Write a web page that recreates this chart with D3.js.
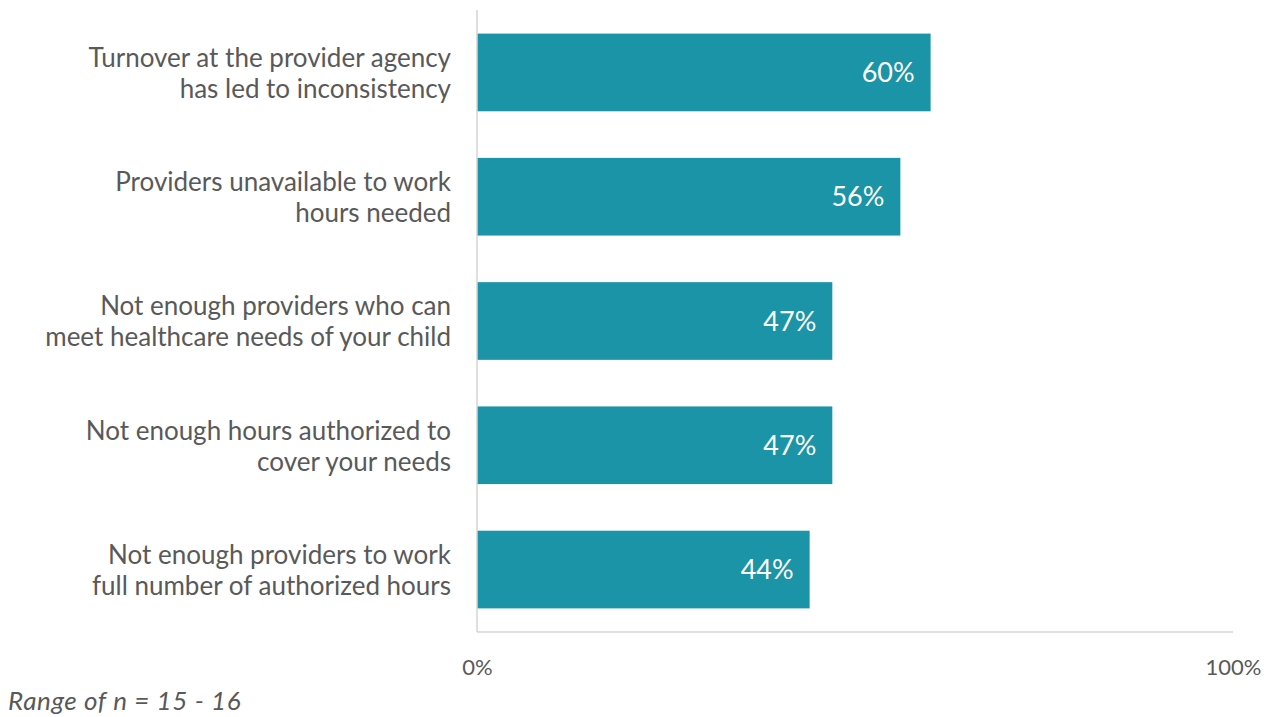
<!DOCTYPE html>
<html>
<head>
<meta charset="utf-8">
<script src="https://cdn.jsdelivr.net/npm/d3@7"></script>
<style>
  html, body { margin: 0; padding: 0; background: #fff; }
  svg { display: block; font-family: "Lato", "Open Sans", sans-serif; }
</style>
</head>
<body>
<svg id="chart" width="1278" height="717"></svg>
<script>
// Barriers reported, share of respondents
const categories = [
  ["Turnover at the provider agency", "has led to inconsistency"],
  ["Providers unavailable to work", "hours needed"],
  ["Not enough providers who can", "meet healthcare needs of your child"],
  ["Not enough hours authorized to", "cover your needs"],
  ["Not enough providers to work", "full number of authorized hours"]
];
const values = [60, 56, 47, 47, 44];
const tickValues = [0, 100];
const footnote = "Range of n = 15 - 16";

const svg = d3.select("#chart");
const plotLeft = 477, plotRight = 1233, plotTop = 10, plotBottom = 632;

const x = d3.scaleLinear().domain([0, 100]).range([plotLeft, plotRight]);
const y = d3.scaleBand()
  .domain(d3.range(categories.length))
  .range([plotTop, plotBottom])
  .paddingInner(0.375)
  .paddingOuter(0.19);

const textColor = "#595959";
const barColor = "#1a94a6";
const axisColor = "#d4d4d4";

// Bars
svg.append("g").selectAll("rect")
  .data(values)
  .join("rect")
  .attr("x", x(0))
  .attr("y", (d, i) => y(i))
  .attr("width", d => x(d) - x(0))
  .attr("height", y.bandwidth())
  .attr("fill", barColor);

// Value labels inside bar ends
svg.append("g").selectAll("text")
  .data(values)
  .join("text")
  .attr("x", d => x(d) - 16)
  .attr("y", (d, i) => y(i) + y.bandwidth() / 2)
  .attr("dy", "0.36em")
  .attr("text-anchor", "end")
  .attr("fill", "#fff")
  .attr("font-size", 27)
  .text(d => d + "%");

// Category labels, two lines each
const catG = svg.append("g");
categories.forEach((lines, i) => {
  const cy = y(i) + y.bandwidth() / 2;
  const t = catG.append("text")
    .attr("text-anchor", "end")
    .attr("fill", textColor)
    .attr("font-size", 26);
  lines.forEach((line, j) => {
    t.append("tspan")
      .attr("x", 451)
      .attr("y", cy + (j - (lines.length - 1) / 2) * 31)
      .attr("dy", "0.38em")
      .text(line);
  });
});

// Axis lines
svg.append("line")
  .attr("x1", x(0)).attr("x2", x(0))
  .attr("y1", plotTop).attr("y2", plotBottom)
  .attr("stroke", axisColor).attr("stroke-width", 1.5);
svg.append("line")
  .attr("x1", x(0)).attr("x2", x(100))
  .attr("y1", plotBottom).attr("y2", plotBottom)
  .attr("stroke", axisColor).attr("stroke-width", 1.5);

// Tick labels
const xAxis = d3.axisBottom(x)
  .tickValues(tickValues)
  .tickFormat(d => d + "%")
  .tickSize(0)
  .tickPadding(27);
const axG = svg.append("g")
  .attr("transform", `translate(0,${plotBottom})`)
  .call(xAxis);
axG.select(".domain").remove();
axG.selectAll("text")
  .attr("fill", textColor)
  .attr("font-size", 22)
  .attr("font-family", "Lato, 'Open Sans', sans-serif");

// Footnote
svg.append("text")
  .attr("x", 8)
  .attr("y", 710)
  .attr("fill", textColor)
  .attr("font-size", 26)
  .attr("font-style", "italic")
  .attr("letter-spacing", 0.6)
  .text(footnote);
</script>
</body>
</html>
